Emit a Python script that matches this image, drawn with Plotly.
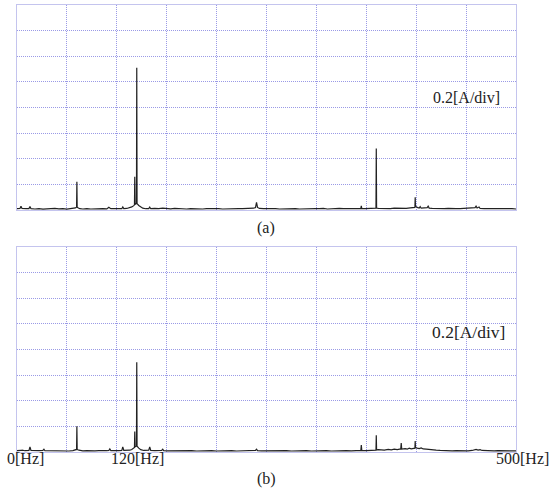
import plotly.graph_objects as go

# spectrum (a) - frequency [Hz] and amplitude [A]
freq_a = [0, 3, 4, 5, 9, 12, 13, 14, 18, 22, 26, 30, 34, 38, 42, 46, 50, 54, 57, 58.5, 59.7, 60,
          60.3, 61.5, 63, 66, 70, 74, 78, 82, 86, 90, 92, 94, 98, 102, 105, 106, 107, 110, 113,
          115, 117, 117.7, 118, 118.3, 119.7, 120, 120.3, 122, 124, 126, 129, 132, 133, 134,
          138, 142, 146, 150, 154, 158, 162, 166, 170, 174, 178, 182, 186, 190, 194, 198, 202,
          206, 210, 214, 218, 222, 226, 230, 234, 237, 239, 240, 241, 243, 247, 251, 255, 259,
          263, 267, 271, 275, 279, 283, 287, 291, 295, 299, 303, 307, 311, 315, 319, 323, 327,
          331, 335, 339, 343, 344.5, 345, 345.5, 349, 353, 357, 359, 359.7, 360, 360.3, 362,
          366, 370, 374, 378, 382, 386, 390, 394, 397, 398.7, 399, 399.3, 401, 403, 404, 405,
          408, 411, 412, 413, 416, 420, 424, 428, 432, 436, 440, 444, 448, 452, 456, 459, 460,
          461, 463, 464, 468, 472, 476, 480, 484, 488, 492, 496, 500]
amp_a = [0.010, 0.012, 0.030, 0.012, 0.010, 0.011, 0.028, 0.010, 0.008, 0.011, 0.007, 0.010,
         0.008, 0.012, 0.009, 0.011, 0.007, 0.010, 0.012, 0.016, 0.022, 0.220, 0.022, 0.016,
         0.010, 0.008, 0.011, 0.008, 0.010, 0.007, 0.011, 0.009, 0.022, 0.010, 0.009, 0.011,
         0.010, 0.024, 0.011, 0.012, 0.016, 0.024, 0.034, 0.040, 0.260, 0.045, 0.050, 1.110,
         0.050, 0.035, 0.022, 0.014, 0.010, 0.011, 0.022, 0.010, 0.012, 0.010, 0.014, 0.011,
         0.009, 0.012, 0.010, 0.012, 0.008, 0.011, 0.009, 0.012, 0.008, 0.010, 0.012, 0.009,
         0.011, 0.008, 0.010, 0.012, 0.009, 0.011, 0.010, 0.012, 0.009, 0.014, 0.020, 0.060,
         0.020, 0.012, 0.010, 0.012, 0.009, 0.011, 0.008, 0.010, 0.012, 0.009, 0.011, 0.008,
         0.010, 0.012, 0.009, 0.011, 0.010, 0.012, 0.008, 0.011, 0.009, 0.012, 0.010, 0.011,
         0.009, 0.012, 0.010, 0.012, 0.032, 0.011, 0.010, 0.012, 0.011, 0.012, 0.015, 0.480,
         0.015, 0.012, 0.010, 0.013, 0.011, 0.014, 0.012, 0.015, 0.013, 0.016, 0.018, 0.020,
         0.100, 0.030, 0.020, 0.015, 0.026, 0.014, 0.016, 0.018, 0.030, 0.015, 0.012, 0.010,
         0.013, 0.011, 0.012, 0.009, 0.011, 0.010, 0.012, 0.010, 0.012, 0.018, 0.030, 0.016,
         0.024, 0.012, 0.010, 0.012, 0.009, 0.011, 0.010, 0.012, 0.009, 0.011, 0.008]

# spectrum (b)
freq_b = [0, 3, 4, 5, 8, 12, 13, 14, 18, 22, 26, 27, 28, 32, 36, 40, 44, 48, 52, 56, 58, 59.7,
          60, 60.3, 62, 66, 70, 74, 78, 82, 86, 90, 92, 93, 94, 98, 102, 105, 106, 107, 110,
          113, 115, 117, 117.7, 118, 118.3, 119.7, 120, 120.3, 122, 124, 127, 131, 132, 133,
          134, 138, 142, 145, 146, 147, 151, 155, 160, 165, 170, 175, 180, 185, 190, 195, 200,
          205, 210, 215, 220, 225, 230, 235, 239, 240, 241, 245, 250, 255, 260, 265, 270, 275,
          280, 285, 290, 295, 300, 305, 310, 315, 320, 325, 330, 335, 340, 344.5, 345, 345.5,
          350, 354, 358, 359.7, 360, 360.3, 362, 365, 368, 372, 375, 378, 381, 384.5, 385,
          385.5, 389, 391, 393, 395, 397, 398.7, 399, 399.3, 401, 403, 405, 407, 410, 413, 416,
          420, 424, 428, 432, 436, 440, 444, 448, 452, 456, 459, 460, 462, 464, 466, 470, 474,
          478, 482, 486, 490, 494, 498, 500]
amp_b = [0.010, 0.016, 0.012, 0.014, 0.010, 0.012, 0.040, 0.012, 0.009, 0.010, 0.012, 0.022,
         0.010, 0.009, 0.010, 0.008, 0.009, 0.010, 0.008, 0.011, 0.014, 0.020, 0.200, 0.020,
         0.014, 0.009, 0.010, 0.008, 0.009, 0.011, 0.008, 0.010, 0.012, 0.024, 0.011, 0.009,
         0.010, 0.012, 0.040, 0.012, 0.011, 0.014, 0.020, 0.030, 0.035, 0.160, 0.040, 0.045,
         0.700, 0.045, 0.030, 0.018, 0.012, 0.011, 0.014, 0.040, 0.012, 0.010, 0.011, 0.012,
         0.022, 0.011, 0.009, 0.010, 0.008, 0.010, 0.009, 0.010, 0.008, 0.010, 0.009, 0.010,
         0.008, 0.010, 0.009, 0.010, 0.008, 0.010, 0.009, 0.010, 0.012, 0.022, 0.011, 0.009,
         0.010, 0.008, 0.010, 0.009, 0.010, 0.008, 0.010, 0.009, 0.010, 0.008, 0.010, 0.009,
         0.010, 0.008, 0.010, 0.009, 0.010, 0.009, 0.011, 0.012, 0.055, 0.012, 0.011, 0.012,
         0.012, 0.014, 0.130, 0.016, 0.018, 0.016, 0.014, 0.020, 0.016, 0.022, 0.018, 0.024,
         0.070, 0.022, 0.026, 0.022, 0.030, 0.024, 0.030, 0.030, 0.085, 0.035, 0.030, 0.026,
         0.032, 0.024, 0.022, 0.018, 0.016, 0.014, 0.012, 0.010, 0.011, 0.009, 0.010, 0.009,
         0.010, 0.009, 0.012, 0.018, 0.020, 0.015, 0.018, 0.012, 0.010, 0.011, 0.009, 0.010,
         0.009, 0.010, 0.009, 0.010, 0.009]

scale_label = "0.2[A/div]"
panel_labels = ["(a)", "(b)"]
freq_labels = ["0[Hz]", "120[Hz]", "500[Hz]"]

grid = "#9a9ae6"
serif = "Liberation Serif"

fig = go.Figure()
fig.add_trace(go.Scatter(x=freq_a, y=amp_a, mode="lines", line=dict(color="#222", width=1.2),
                         xaxis="x", yaxis="y", showlegend=False))
fig.add_trace(go.Scatter(x=freq_b, y=amp_b, mode="lines", line=dict(color="#222", width=1.2),
                         xaxis="x2", yaxis="y2", showlegend=False))

xdom = [17 / 550, 516 / 550]
axis_x = dict(range=[0, 500], dtick=50, showgrid=True, gridcolor=grid, griddash="1px,1px",
              gridwidth=1, showticklabels=False, ticks="", zeroline=False,
              showline=True, mirror=True, linecolor="#c4c4ee", linewidth=1, domain=xdom)
axis_y = dict(range=[0, 1.6], dtick=0.2, showgrid=True, gridcolor=grid, griddash="1px,1px",
              gridwidth=1, showticklabels=False, ticks="", zeroline=False,
              showline=True, mirror=True, linecolor="#c4c4ee", linewidth=1)

fig.update_layout(
    width=550, height=493, autosize=False,
    margin=dict(l=0, r=0, t=0, b=0),
    paper_bgcolor="white", plot_bgcolor="white",
    font=dict(family=serif, color="#222", size=16),
    xaxis=dict(axis_x, anchor="y"),
    yaxis=dict(axis_y, anchor="x", domain=[1 - 210 / 493, 1 - 5 / 493]),
    xaxis2=dict(axis_x, anchor="y2"),
    yaxis2=dict(axis_y, anchor="x2", domain=[1 - 452 / 493, 1 - 247 / 493]),
)

# scale notes
fig.add_annotation(text=scale_label, x=466 / 550, y=1 - 97 / 493, xref="paper", yref="paper",
                   showarrow=False, font=dict(size=16), xanchor="center", yanchor="middle")
fig.add_annotation(text=scale_label, x=468 / 550, y=1 - 332 / 493, xref="paper", yref="paper",
                   showarrow=False, font=dict(size=17.5), xanchor="center", yanchor="middle")

# panel captions
for lab, ypx in zip(panel_labels, [228, 479]):
    fig.add_annotation(text=lab, x=266 / 550, y=1 - ypx / 493, xref="paper", yref="paper",
                       showarrow=False, xanchor="center", yanchor="middle")

# frequency labels under (b)
for lab, xpx in zip(freq_labels, [25, 137, 522]):
    fig.add_annotation(text=lab, x=xpx / 550, y=1 - 458 / 493, xref="paper", yref="paper",
                       showarrow=False, xanchor="center", yanchor="middle")

# drop the browser's default page margin so the figure fills the window
fig.write_html("out.html", config={"displayModeBar": False},
               post_script="document.body.style.margin='0';")
